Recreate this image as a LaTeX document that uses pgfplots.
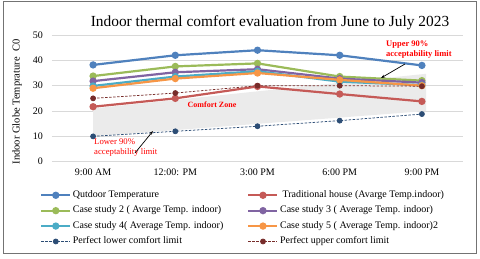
\documentclass[border=0pt]{standalone}
\usepackage{pgfplots}
\pgfplotsset{compat=1.18}
\usepackage{fontspec}
\setmainfont{Liberation Serif}
\usetikzlibrary{arrows.meta}
\definecolor{cOut}{HTML}{4F81BD}
\definecolor{cTrad}{HTML}{C55A57}
\definecolor{cTwo}{HTML}{9BBB59}
\definecolor{cThree}{HTML}{8064A2}
\definecolor{cFour}{HTML}{4BACC6}
\definecolor{cFive}{HTML}{F79646}
\definecolor{cLow}{HTML}{2C4D75}
\definecolor{cUp}{HTML}{772C2A}
\definecolor{cGrid}{HTML}{D9D9D9}
\definecolor{cZone}{HTML}{EBEBEB}
\definecolor{cNote}{HTML}{FF0000}
\begin{document}
\begin{tikzpicture}
\path (0pt,0pt) rectangle (480pt,-258pt);
\draw[color=black!55, line width=0.8pt] (3.5pt,-1.5pt) rectangle (476.5pt,-253pt);
\node[font=\fontsize{15.4}{17}\selectfont] at (270pt,-23pt) {Indoor thermal comfort evaluation from June to July 2023};
\node[rotate=90, font=\fontsize{10.5}{12}\selectfont] at (17pt,-102pt) {Indoor Globe Temprature\ \ C0};
\begin{axis}[
  at={(52pt,-161.7pt)}, anchor=south west,
  scale only axis, width=411pt, height=126.7pt,
  xmin=-0.5, xmax=4.5, ymin=0, ymax=50,
  xtick={0,1,2,3,4},
  xticklabels={9:00 AM,12:00: PM,3:00 PM,6:00 PM,9:00 PM},
  ytick={0,10,20,30,40,50},
  /pgf/number format/assume math mode=true,
  ymajorgrids, grid style={cGrid, line width=0.8pt},
  axis line style={draw=none},
  major tick length=0pt,
  tick label style={font=\fontsize{10}{12}\selectfont},
  yticklabel style={inner sep=0pt, xshift=-9pt},
  xticklabel style={inner sep=0pt, yshift=-7pt},
  legend columns=2,
  legend cell align=left,
  legend style={at={(-0.0292,-0.214)}, anchor=north west, draw=none, fill=none,
    inner sep=0pt, row sep=2.9pt,
    font=\fontsize{10}{12}\selectfont,
    nodes={inner sep=1.5pt, text height=7pt, text depth=2.5pt}},
  legend image code/.code={\draw[#1, mark=none] (0pt,0pt) -- (29pt,0pt); \draw[#1, only marks] plot coordinates {(14.5pt,0pt)};},
  every axis plot/.append style={mark=*, mark size=2.5pt},
]
\addplot[fill=cZone, draw=none, mark=none, forget plot] coordinates {(0,10) (0,21) (4.05,34.7) (4.05,20) (0,10)} -- cycle;
\addplot[cOut, line width=2.2pt, mark options={fill=cOut}] coordinates {(0,38.2) (1,42) (2,44) (3,42) (4,38)};
\addlegendentry{\makebox[173pt][l]{Qutdoor Temperature}}
\addplot[cTrad, line width=2.2pt, mark options={fill=cTrad}] coordinates {(0,21.7) (1,25) (2,29.7) (3,26.7) (4,23.8)};
\addlegendentry{\ Traditional house (Avarge Temp.indoor)}
\addplot[cTwo, line width=2.2pt, mark options={fill=cTwo}] coordinates {(0,33.8) (1,37.6) (2,38.8) (3,33.6) (4,32)};
\addlegendentry{\makebox[173pt][l]{Case study 2 ( Avarge Temp. indoor)}}
\addplot[cThree, line width=2.2pt, mark options={fill=cThree}] coordinates {(0,31.8) (1,35.3) (2,36.5) (3,32.8) (4,31.2)};
\addlegendentry{Case study 3 ( Average Temp. indoor)}
\addplot[cFour, line width=2.2pt, mark options={fill=cFour}] coordinates {(0,29.9) (1,33.6) (2,35.7) (3,31.6) (4,30.2)};
\addlegendentry{\makebox[173pt][l]{Case study 4( Average Temp. indoor)}}
\addplot[cFive, line width=2.2pt, mark options={fill=cFive}] coordinates {(0,29) (1,32.8) (2,35) (3,32.3) (4,30)};
\addlegendentry{Case study 5 ( Average Temp. indoor)2}
\addplot[cLow, line width=0.75pt, dash pattern=on 2.5pt off 1.5pt, mark options={solid, fill=cLow}] coordinates {(0,10) (1,12) (2,14) (3,16.2) (4,18.8)};
\addlegendentry{\makebox[173pt][l]{Perfect lower comfort limit}}
\addplot[cUp, line width=0.75pt, dash pattern=on 2.5pt off 1.5pt, mark options={solid, fill=cUp}] coordinates {(0,25) (1,27.1) (2,30) (3,30) (4,29.8)};
\addlegendentry{Perfect upper comfort limit}
\end{axis}
\node[text=cNote, font=\bfseries\fontsize{8}{10}\selectfont] at (212pt,-105pt) {Comfort Zone};
\node[text=cNote, font=\bfseries\fontsize{8.5}{10}\selectfont, anchor=west, align=left, inner sep=0pt] at (386pt,-49.5pt) {Upper 90\%\\acceptability limit};
\draw[-{Stealth[length=4pt,width=3pt]}, line width=0.7pt] (405pt,-64pt) -- (381pt,-78pt);
\node[text=cNote, font=\fontsize{8.7}{10}\selectfont, anchor=west, align=left, inner sep=0pt] at (94pt,-148pt) {Lower 90\%\\acceptability limit};
\draw[-{Stealth[length=4pt,width=3pt]}, line width=0.7pt] (135pt,-153pt) -- (153pt,-131pt);
\end{tikzpicture}
\end{document}
